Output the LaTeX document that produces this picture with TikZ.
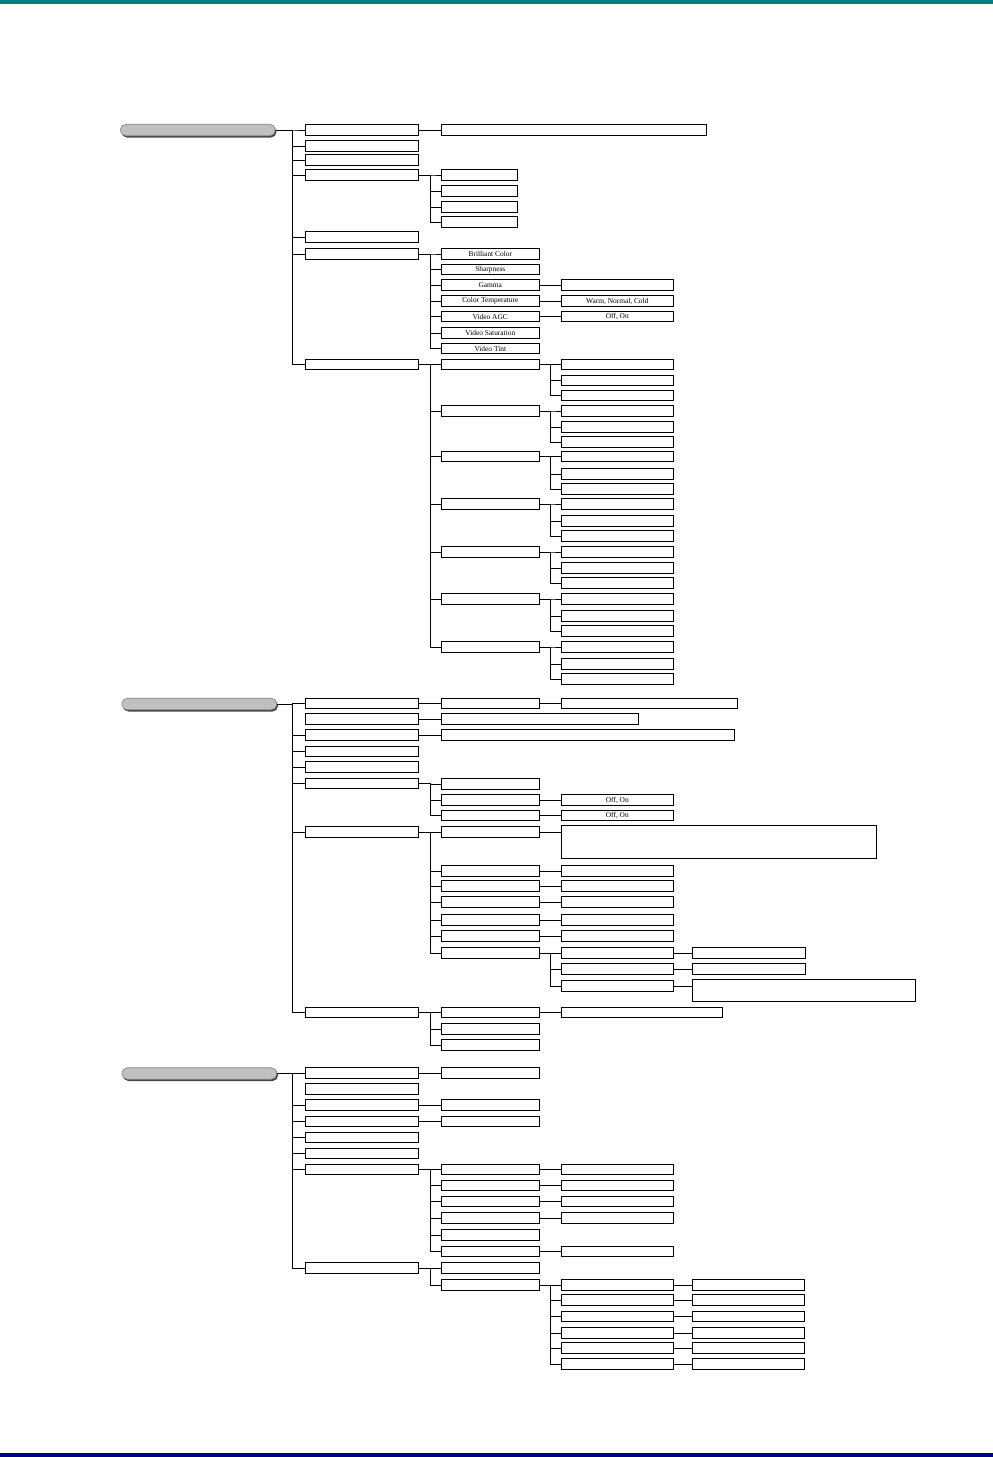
\documentclass[tikz,border=0pt]{standalone}
\usepackage{fontspec}
\setmainfont{Liberation Serif}
\usetikzlibrary{shadows}
\definecolor{barteal}{RGB}{0,128,128}
\definecolor{barnavy}{RGB}{0,0,128}
\definecolor{pillfill}{RGB}{192,192,192}
\definecolor{pillshadow}{RGB}{70,70,70}
\begin{document}
\begin{tikzpicture}[x=1pt,y=1pt,
 bx/.style={draw, line width=1pt, minimum height=10.3pt, inner sep=0pt, outer sep=0pt, anchor=west, font=\fontsize{7.4}{8}\selectfont},
 wA/.style={bx, minimum width=113pt},
 wB/.style={bx, minimum width=98pt},
 wC/.style={bx, minimum width=112pt},
 wD/.style={bx, minimum width=113pt},
 wS/.style={bx, minimum width=76pt},
 pill/.style={draw=gray, line width=0.6pt, fill=pillfill, rounded corners=5.5pt, minimum width=155pt, minimum height=11.5pt, inner sep=0pt, anchor=west, drop shadow={shadow xshift=1.2pt, shadow yshift=-1.8pt, fill=pillshadow, opacity=1}},
 lk/.style={line width=1pt}]
\useasboundingbox (0,0) rectangle (993,-1457);
\fill[barteal] (0,0) rectangle (993,-4);
\fill[barnavy] (0,-1452.5) rectangle (993,-1457);

% ---------------- Section 1 ----------------
\node[pill] (r1) at (120,-130) {};
\node[wA] (a1) at (305.3,-130) {};
\node[wA] (a2) at (305.3,-146) {};
\node[wA] (a3) at (305.3,-160) {};
\node[wA] (a4) at (305.3,-175) {};
\node[wA] (a5) at (305.3,-237) {};
\node[wA] (a6) at (305.3,-254) {};
\node[wA] (a7) at (305.3,-364.5) {};
\foreach \n in {a1,a2,a3,a4,a5,a6,a7} \draw[lk] (r1.east) -- ++(17,0) |- (\n.west);

\node[bx, minimum width=265.4pt] (a1x) at (441.3,-130) {};
\draw[lk] (a1.east) -- (a1x.west);

\foreach \k/\y in {1/175,2/191,3/207,4/222} {
  \node[wS] (s\k) at (441.3,-\y) {};
  \draw[lk] (a4.east) -- ++(12.4,0) |- (s\k.west);
}

\node[wB] (p1) at (441.3,-254) {Brilliant Color};
\node[wB] (p2) at (441.3,-269.5) {Sharpness};
\node[wB] (p3) at (441.3,-285) {Gamma};
\node[wB] (p4) at (441.3,-301) {Color Temperature};
\node[wB] (p5) at (441.3,-316.5) {Video AGC};
\node[wB] (p6) at (441.3,-333) {Video Saturation};
\node[wB] (p7) at (441.3,-348.5) {Video Tint};
\foreach \n in {p1,p2,p3,p4,p5,p6,p7} \draw[lk] (a6.east) -- ++(12.4,0) |- (\n.west);
\node[wC] (p3x) at (561.3,-285) {};
\node[wC] (p4x) at (561.3,-301) {Warm, Normal, Cold};
\node[wC] (p5x) at (561.3,-316.5) {Off, On};
\draw[lk] (p3.east) -- (p3x.west);
\draw[lk] (p4.east) -- (p4x.west);
\draw[lk] (p5.east) -- (p5x.west);

\foreach \i/\y/\p/\q in {1/364.5/380.5/395.5, 2/411/427/442, 3/456.5/474/489, 4/504/521/536, 5/552/568/583, 6/599/616/631, 7/647/664/679} {
  \node[wB] (g\i) at (441.3,-\y) {};
  \node[wC] (ga\i) at (561.3,-\y) {};
  \node[wC] (gb\i) at (561.3,-\p) {};
  \node[wC] (gc\i) at (561.3,-\q) {};
  \draw[lk] (a7.east) -- ++(12.4,0) |- (g\i.west);
  \draw[lk] (g\i.east) -- ++(11,0) |- (ga\i.west);
  \draw[lk] (g\i.east) -- ++(11,0) |- (gb\i.west);
  \draw[lk] (g\i.east) -- ++(11,0) |- (gc\i.west);
}

% ---------------- Section 2 ----------------
\node[pill] (r2) at (121.5,-704) {};
\node[wA] (b1) at (305.3,-703.5) {};
\node[wA] (b2) at (305.3,-719) {};
\node[wA] (b3) at (305.3,-735) {};
\node[wA] (b4) at (305.3,-751.5) {};
\node[wA] (b5) at (305.3,-767) {};
\node[wA] (b6) at (305.3,-783.5) {};
\node[wA] (b7) at (305.3,-832) {};
\node[wA] (b8) at (305.3,-1012.5) {};
\foreach \n in {b1,b3,b4,b5,b6,b7,b8} \draw[lk] (r2.east) -- ++(15.8,0) |- (\n.west);

\node[wB] (q1) at (441.3,-703.5) {};
\node[bx, minimum width=175.6pt] (q1x) at (561.7,-703.5) {};
\draw[lk] (b1.east) -- (q1.west);
\draw[lk] (q1.east) -- (q1x.west);
\node[bx, minimum width=197.4pt] (b2x) at (441.3,-719) {};
\draw[lk] (b2.east) -- (b2x.west);
\node[bx, minimum width=293pt] (b3x) at (441.3,-735) {};
\draw[lk] (b3.east) -- (b3x.west);

\node[wB] (t1) at (441.3,-784) {};
\node[wB] (t2) at (441.3,-800) {};
\node[wB] (t3) at (441.3,-815.7) {};
\foreach \n in {t1,t2,t3} \draw[lk] (b6.east) -- ++(12.4,0) |- (\n.west);
\node[wC] (t2x) at (561.3,-800) {Off, On};
\node[wC] (t3x) at (561.3,-815.7) {Off, On};
\draw[lk] (t2.east) -- (t2x.west);
\draw[lk] (t3.east) -- (t3x.west);

\node[wB] (u1) at (441.3,-832) {};
\node[wB] (u2) at (441.3,-871) {};
\node[wB] (u3) at (441.3,-886) {};
\node[wB] (u4) at (441.3,-902) {};
\node[wB] (u5) at (441.3,-920) {};
\node[wB] (u6) at (441.3,-936) {};
\node[wB] (u7) at (441.3,-953) {};
\foreach \n in {u1,u2,u3,u4,u5,u6,u7} \draw[lk] (b7.east) -- ++(12.4,0) |- (\n.west);
\node[bx, anchor=north west, minimum width=314.6pt, minimum height=33.2pt] (big) at (561.7,-825.3) {};
\draw[lk] (u1.east) -- (u1.east -| big.west);
\foreach \n in {u2,u3,u4,u5,u6} {
  \node[wC] (\n x) at (561.3,0 |- \n.west) {};
  \draw[lk] (\n.east) -- (\n x.west);
}
\node[wC] (v1) at (561.3,-953) {};
\node[wC] (v2) at (561.3,-969) {};
\node[wC] (v3) at (561.3,-986) {};
\foreach \n in {v1,v2,v3} \draw[lk] (u7.east) -- ++(11,0) |- (\n.west);
\node[wD] (w1) at (692.3,-953) {};
\node[wD] (w2) at (692.3,-969) {};
\node[bx, anchor=north west, minimum width=223pt, minimum height=22.2pt] (w3) at (692.3,-979.3) {};
\draw[lk] (v1.east) -- (w1.west);
\draw[lk] (v2.east) -- (w2.west);
\draw[lk] (v3.east) -- (v3.east -| w3.west);

\node[wB] (x1) at (441.3,-1012.5) {};
\node[wB] (x2) at (441.3,-1029) {};
\node[wB] (x3) at (441.3,-1045) {};
\foreach \n in {x1,x2,x3} \draw[lk] (b8.east) -- ++(12.4,0) |- (\n.west);
\node[bx, minimum width=160.6pt] (x1x) at (561.7,-1012.5) {};
\draw[lk] (x1.east) -- (x1x.west);

% ---------------- Section 3 ----------------
\node[pill] (r3) at (121.5,-1073.5) {};
\node[wA] (c1) at (305.3,-1073) {};
\node[wA] (c2) at (305.3,-1089) {};
\node[wA] (c3) at (305.3,-1105) {};
\node[wA] (c4) at (305.3,-1121.5) {};
\node[wA] (c5) at (305.3,-1137.5) {};
\node[wA] (c6) at (305.3,-1153.8) {};
\node[wA] (c7) at (305.3,-1169.8) {};
\node[wA] (c8) at (305.3,-1268) {};
\foreach \n in {c1,c3,c4,c5,c6,c7,c8} \draw[lk] (r3.east) -- ++(15.8,0) |- (\n.west);

\node[wB] (y1) at (441.3,-1073) {};
\node[wB] (y3) at (441.3,-1105) {};
\node[wB] (y4) at (441.3,-1121.5) {};
\draw[lk] (c1.east) -- (y1.west);
\draw[lk] (c3.east) -- (y3.west);
\draw[lk] (c4.east) -- (y4.west);

\foreach \k/\y in {1/1169.8,2/1185.5,3/1201.5,4/1218,5/1235,6/1251.5} {
  \node[wB] (z\k) at (441.3,-\y) {};
  \draw[lk] (c7.east) -- ++(12.4,0) |- (z\k.west);
}
\foreach \k/\y in {1/1169.8,2/1185.5,3/1201.5,4/1218,6/1251.5} {
  \node[wC] (zx\k) at (561.3,-\y) {};
  \draw[lk] (z\k.east) -- (zx\k.west);
}

\node[wB] (e1) at (441.3,-1268) {};
\node[wB] (e2) at (441.3,-1285) {};
\draw[lk] (c8.east) -- ++(12.4,0) |- (e1.west);
\draw[lk] (c8.east) -- ++(12.4,0) |- (e2.west);
\foreach \k/\y in {1/1285,2/1300,3/1316.3,4/1333,5/1348,6/1364} {
  \node[wC] (f\k) at (561.3,-\y) {};
  \node[bx, minimum width=111.7pt] (fx\k) at (692.3,-\y) {};
  \draw[lk] (e2.east) -- ++(11,0) |- (f\k.west);
  \draw[lk] (f\k.east) -- (fx\k.west);
}
\end{tikzpicture}
\end{document}
